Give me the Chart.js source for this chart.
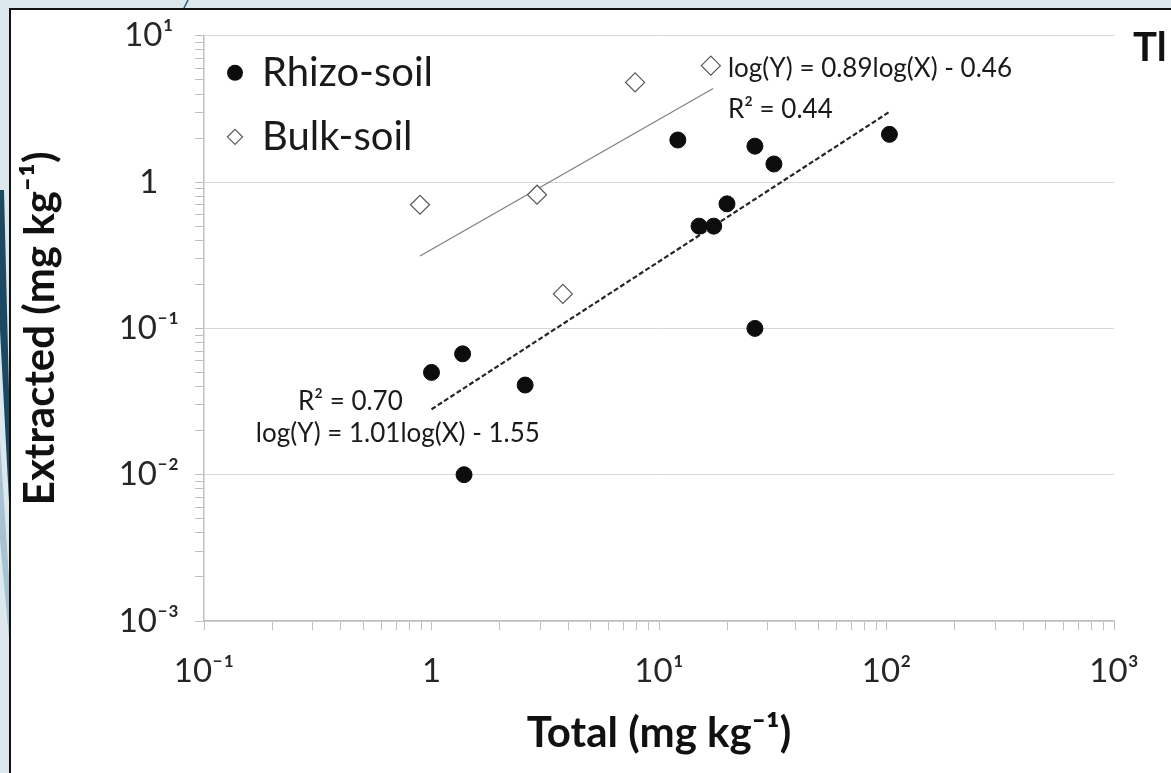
<!DOCTYPE html>
<html lang="en">
<head>
<meta charset="UTF-8">
<title>Tl - extracted vs total</title>
<script src="https://cdn.jsdelivr.net/npm/chart.js"></script>
<style>
    html, body {
        margin: 0;
        padding: 0;
    }

    body {
        width: 1171px;
        height: 773px;
        overflow: hidden;
        position: relative;
        background: #dde8ee;
        font-family: Lato, sans-serif;
    }

    .deco {
        position: absolute;
        left: 0;
        top: 0;
    }

    .frame {
        position: absolute;
        left: 9px;
        top: 8px;
        width: 1200px;
        height: 800px;
        background: #fff;
        border: 2px solid #111;
    }

    .wrap {
        position: absolute;
        left: 0;
        top: 0;
        width: 1171px;
        height: 773px;
    }
</style>
</head>
<body>
<svg class="deco" width="1171" height="773">
    <line x1="188" y1="0" x2="183" y2="10" stroke="#2d5b7a" stroke-width="1.5"/>
    <polygon points="0,190 4,190 11,470 11,540 0,330" fill="#1d4862"/>
    <polygon points="0,440 11,610 11,660 0,540" fill="#a8c2d2"/>
</svg>
<div class="frame"></div>
<div class="wrap"><canvas id="chart" width="1171" height="773"></canvas></div>

<script>
    // values (mg/kg)
    const rhizoTotal = [1.0, 1.37, 2.58, 1.39, 12.1, 15.0, 17.4, 19.9, 26.4, 32.0, 26.4, 103];
    const rhizoExtracted = [0.050, 0.067, 0.041, 0.010, 1.94, 0.50, 0.50, 0.71, 1.76, 1.33, 0.10, 2.12];

    const bulkTotal = [0.89, 2.91, 3.78, 7.85, 16.9];
    const bulkExtracted = [0.70, 0.82, 0.172, 4.80, 6.25];

    // trendline end points
    const rhizoFitTotal = [1.0, 104];
    const rhizoFitExtracted = [0.028, 3.05];
    const bulkFitTotal = [0.89, 17.3];
    const bulkFitExtracted = [0.313, 4.37];

    const xDecades = [0.1, 1, 10, 100, 1000];
    const xTickLabels = ['10\u207B\u00B9', '1', '10\u00B9', '10\u00B2', '10\u00B3'];
    const yDecades = [0.001, 0.01, 0.1, 1, 10];
    const yTickLabels = ['10\u207B\u00B3', '10\u207B\u00B2', '10\u207B\u00B9', '1', '10\u00B9'];

    const seriesNames = ['Rhizo-soil', 'Bulk-soil'];
    const elementLabel = 'Tl';

    // equation labels, anchored at (total, extracted)
    const fitLabels = [
        { text: 'log(Y) = 0.89log(X) - 0.46', x: 20.1, y: 5.97 },
        { text: 'R\u00B2 = 0.44', x: 20.1, y: 3.14 },
        { text: 'R\u00B2 = 0.70', x: 0.259, y: 0.0317 },
        { text: 'log(Y) = 1.01log(X) - 1.55', x: 0.169, y: 0.0192 }
    ];

    const pts = (xs, ys) => xs.map((v, i) => ({ x: v, y: ys[i] }));

    // all log ticks 1..9 x 10^k, labels only on the decades
    function logTicks(decades) {
        const out = [];
        for (let i = 0; i < decades.length - 1; i++) {
            for (let m = 1; m < 10; m++) out.push({ value: decades[i] * m });
        }
        out.push({ value: decades[decades.length - 1] });
        return out;
    }
    function decadeIndex(decades, v) {
        return decades.findIndex(d => Math.abs(Math.log10(d) - Math.log10(v)) < 1e-6);
    }

    const overlay = {
        id: 'overlay',
        afterDatasetsDraw(chart) {
            const { ctx, chartArea, scales } = chart;
            ctx.save();

            // legend inside the plot
            const lx = chartArea.left + 31, ly = chartArea.top + 37, gap = 64;
            ctx.fillStyle = '#0d0d0d';
            ctx.beginPath();
            ctx.arc(lx, ly, 8, 0, Math.PI * 2);
            ctx.fill();
            ctx.beginPath();
            ctx.moveTo(lx, ly + gap - 7.5);
            ctx.lineTo(lx + 7.5, ly + gap);
            ctx.lineTo(lx, ly + gap + 7.5);
            ctx.lineTo(lx - 7.5, ly + gap);
            ctx.closePath();
            ctx.fillStyle = '#fff';
            ctx.fill();
            ctx.strokeStyle = '#595959';
            ctx.lineWidth = 1.2;
            ctx.stroke();

            ctx.fillStyle = '#1a1a1a';
            ctx.font = '40px Lato';
            ctx.textBaseline = 'middle';
            ctx.textAlign = 'left';
            ctx.fillText(seriesNames[0], lx + 27, ly);
            ctx.fillText(seriesNames[1], lx + 27, ly + gap);

            // regression labels
            ctx.font = '26px Lato';
            fitLabels.forEach(l => {
                ctx.fillText(l.text, scales.x.getPixelForValue(l.x), scales.y.getPixelForValue(l.y));
            });

            // element name, top right
            ctx.font = 'bold 40px Lato';
            ctx.fillStyle = '#111';
            ctx.fillText(elementLabel, chartArea.right + 19, chartArea.top + 12);
            ctx.restore();
        }
    };

    const tickFont = { family: 'Lato', size: 33 };
    const titleFont = { family: 'Lato', size: 42, weight: 'bold' };

    new Chart(document.getElementById('chart'), {
        type: 'scatter',
        data: {
            datasets: [
                {
                    label: seriesNames[0],
                    data: pts(rhizoTotal, rhizoExtracted),
                    pointStyle: 'circle',
                    pointRadius: 8,
                    backgroundColor: '#0d0d0d',
                    borderColor: '#0d0d0d',
                    borderWidth: 1
                },
                {
                    label: seriesNames[1],
                    data: pts(bulkTotal, bulkExtracted),
                    pointStyle: 'rectRot',
                    pointRadius: 9.5,
                    backgroundColor: '#fff',
                    borderColor: '#595959',
                    borderWidth: 1.2
                },
                {
                    label: 'Rhizo fit',
                    data: pts(rhizoFitTotal, rhizoFitExtracted),
                    showLine: true,
                    pointRadius: 0,
                    borderColor: '#262626',
                    borderWidth: 2.2,
                    borderDash: [5, 2.5]
                },
                {
                    label: 'Bulk fit',
                    data: pts(bulkFitTotal, bulkFitExtracted),
                    showLine: true,
                    pointRadius: 0,
                    borderColor: '#7f7f7f',
                    borderWidth: 1.2
                }
            ]
        },
        options: {
            responsive: false,
            animation: false,
            layout: { padding: { left: 12, right: 57, top: 32, bottom: 0 } },
            plugins: {
                legend: { display: false },
                tooltip: { enabled: false }
            },
            scales: {
                x: {
                    type: 'logarithmic',
                    min: 0.1,
                    max: 1000,
                    afterBuildTicks: s => { s.ticks = logTicks(xDecades); },
                    afterFit: s => { s.height = 152; },
                    grid: { drawOnChartArea: false, tickColor: '#bfbfbf', tickLength: 9 },
                    border: { color: '#bfbfbf', width: 1.5 },
                    ticks: {
                        autoSkip: false,
                        maxRotation: 0,
                        padding: 22,
                        color: '#262626',
                        font: tickFont,
                        callback: v => {
                            const i = decadeIndex(xDecades, v);
                            return i < 0 ? '' : xTickLabels[i];
                        }
                    },
                    title: {
                        display: true,
                        text: 'Total (mg kg\u207B\u00B9)',
                        color: '#111',
                        font: titleFont,
                        padding: { top: 0, bottom: 14 }
                    }
                },
                y: {
                    type: 'logarithmic',
                    min: 0.001,
                    max: 10,
                    afterBuildTicks: s => { s.ticks = logTicks(yDecades); },
                    afterFit: s => { s.width = 192; },
                    grid: {
                        color: c => (c.tick && decadeIndex(yDecades, c.tick.value) >= 0) ? '#d9d9d9' : 'rgba(0,0,0,0)',
                        tickColor: '#bfbfbf',
                        tickLength: 9
                    },
                    border: { color: '#bfbfbf', width: 1.5 },
                    ticks: {
                        autoSkip: false,
                        padding: 16,
                        crossAlign: 'center',
                        color: '#262626',
                        font: tickFont,
                        callback: v => {
                            const i = decadeIndex(yDecades, v);
                            return i < 0 ? '' : yTickLabels[i];
                        }
                    },
                    title: {
                        display: true,
                        text: 'Extracted (mg kg\u207B\u00B9)',
                        color: '#111',
                        font: titleFont,
                        align: 'center',
                        padding: { top: 3, bottom: 0 }
                    }
                }
            }
        },
        plugins: [overlay]
    });
</script>
</body>
</html>
